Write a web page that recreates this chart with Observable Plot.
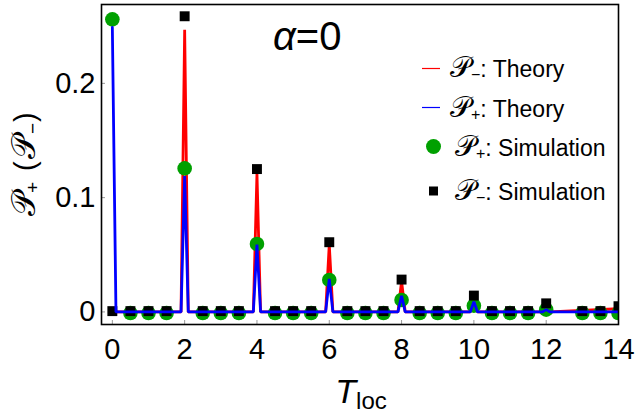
<!DOCTYPE html>
<html><head><meta charset="utf-8">
<script src="https://cdn.jsdelivr.net/npm/d3@7"></script>
<script src="https://cdn.jsdelivr.net/npm/@observablehq/plot@0.6"></script>
<style>
html,body{margin:0;padding:0;background:#fff;}
#chart{width:637px;height:419px;position:relative;overflow:hidden;}
</style></head><body><div id="chart"></div>
<script>
// Simulation sample times and values
const simT = [0,0.5,1,1.5,2,2.5,3,3.5,4,4.5,5,5.5,6,6.5,7,7.5,8,8.5,9,9.5,10,10.5,11,11.5,12,13,13.5,14];
const simPlus = [0.256,-0.001,-0.001,-0.001,0.1256,-0.001,-0.001,-0.001,0.0595,-0.001,-0.001,-0.001,0.028,-0.001,-0.001,-0.001,0.0105,-0.001,-0.001,-0.001,0.0055,-0.001,-0.001,-0.001,0.002,-0.001,-0.001,-0.001];
const simMinus = [0.0007,0.0007,0.0007,0.0007,0.2587,0.0007,0.0007,0.0007,0.125,0.0007,0.0007,0.0007,0.061,0.0007,0.0007,0.0007,0.0283,0.0007,0.0007,0.0007,0.0143,0.0007,0.0007,0.0007,0.0075,0.0007,0.0007,0.005];
// Theory curves
const theoryT = [0,0.1,1.9,2,2.1,3.9,4,4.1,5.9,6,6.1,7.9,8,8.1,9.9,10,10.1,11.9,12,12.1,14];
const theoryMinus = [0,0,0,0.247,0,0,0.121,0,0,0.059,0,0,0.027,0,0,0.013,0,0,0.008,0,0.0028];
const theoryPlus = [0.249,0,0,0.119,0,0,0.059,0,0,0.029,0,0,0.014,0,0,0.009,0,0,0.002,0,0];
// Ticks
const xTicks = [0,2,4,6,8,10,12,14];
const yTicks = [0,0.1,0.2];
const yTickLabels = ["0","0.1","0.2"];
// Legend entries
const legendSub = ["\u2212", "+", "+", "\u2212"];
const legendText = [": Theory", ": Theory", ": Simulation", ": Simulation"];

const RED = "#ff0000", BLUE = "#0000ff", GREEN = "#00a000";
const FONT = "Liberation Sans, Arial, Helvetica, sans-serif";

const simData = simT.map((t,i)=>({t, plus: simPlus[i], minus: simMinus[i]}));
const thData = theoryT.map((t,i)=>({t, plus: theoryPlus[i], minus: theoryMinus[i]}));

const W = 637, H = 419, mL = 101, mR = 19, mT = 4, mB = 95;
const innerW = W - mL - mR, innerH = H - mT - mB;

const plot = Plot.plot({
  width: W, height: H,
  marginLeft: mL, marginRight: mR, marginTop: mT, marginBottom: mB,
  style: {fontFamily: FONT, background: "#fff", color: "#000"},
  x: {domain: [-0.3, 14]},
  y: {domain: [-0.011, 0.269]},
  marks: [
    Plot.tickX(xTicks, {x: d=>d, insetTop: innerH - 4, stroke: "#999", strokeWidth: 1}),
    Plot.tickY(yTicks, {y: d=>d, insetRight: innerW - 4, stroke: "#999", strokeWidth: 1}),
    Plot.axisX({ticks: xTicks, tickSize: 0, tickPadding: 14, fontSize: 29, label: null, tickFormat: d=>String(d)}),
    Plot.axisY({ticks: yTicks, tickSize: 0, tickPadding: 6, fontSize: 29, label: null, tickFormat: d=>yTickLabels[yTicks.indexOf(d)]}),
    Plot.line(thData, {x: "t", y: "minus", stroke: RED, strokeWidth: 2.8, clip: "frame", strokeLinejoin: "miter"}),
    Plot.dot(simData, {x: "t", y: "plus", r: 7.3, fill: GREEN, stroke: "none", clip: "frame"}),
    Plot.dot(simData, {x: "t", y: "minus", r: 5.6, symbol: "square", fill: "#000", stroke: "none", clip: "frame"}),
    Plot.line(thData, {x: "t", y: "plus", stroke: BLUE, strokeWidth: 2.8, clip: "frame", strokeLinejoin: "miter"}),
    Plot.frame({stroke: "#000", strokeWidth: 1.6})
  ]
});
document.getElementById("chart").appendChild(plot);

const svg = d3.select(plot);
const P = "\u{1D4AB}";

// alpha annotation
const a = svg.append("text").attr("x", 273).attr("y", 50).attr("text-anchor", "start").attr("font-size", 40).attr("font-family", FONT);
a.append("tspan").attr("font-style", "italic").text("\u03B1");
a.append("tspan").text("=0");

// x label
const xl = svg.append("text").attr("x", 361).attr("y", 403).attr("text-anchor", "middle").attr("font-family", FONT).attr("font-size", 34);
xl.append("tspan").attr("font-style", "italic").text("T");
xl.append("tspan").attr("font-size", 24).attr("dy", 6).text("loc");

// y label (rotated, reads bottom to top)
const yl = svg.append("text").attr("transform", "translate(35,217) rotate(-90)").attr("text-anchor", "start").attr("font-family", FONT).attr("font-size", 29);
yl.append("tspan").attr("x", 1).attr("font-size", 33).text(P);
yl.append("tspan").attr("x", 24).attr("font-size", 19).attr("dy", 4).text("+");
yl.append("tspan").attr("x", 46).attr("dy", -4).text("(");
yl.append("tspan").attr("x", 58).attr("font-size", 33).text(P);
yl.append("tspan").attr("x", 83).attr("font-size", 19).attr("dy", 4).text("\u2212");
yl.append("tspan").attr("x", 95).attr("dy", -4).text(")");

// legend
const lg = svg.append("g").attr("font-family", FONT).attr("font-size", 23).attr("text-anchor", "start");
const rowBase = [77, 116.5, 155.5, 200];
const rowX = [450, 450, 455, 455];
function legendLabel(i) {
  const t = lg.append("text").attr("y", rowBase[i]);
  t.append("tspan").attr("x", rowX[i]).attr("font-size", 29).text(P);
  t.append("tspan").attr("x", rowX[i] + 21).attr("font-size", 16).attr("dy", 3).text(legendSub[i]);
  t.append("tspan").attr("dy", -3).text(legendText[i]);
}
lg.append("line").attr("x1", 422).attr("x2", 440).attr("y1", 68.5).attr("y2", 68.5).attr("stroke", RED).attr("stroke-width", 1.2);
lg.append("line").attr("x1", 422).attr("x2", 440).attr("y1", 107.5).attr("y2", 107.5).attr("stroke", BLUE).attr("stroke-width", 1.2);
lg.append("circle").attr("cx", 433.5).attr("cy", 146.5).attr("r", 7.5).attr("fill", GREEN);
lg.append("rect").attr("x", 429).attr("y", 186.5).attr("width", 9).attr("height", 9).attr("fill", "#000");
[0,1,2,3].forEach(legendLabel);
</script>
</body></html>
